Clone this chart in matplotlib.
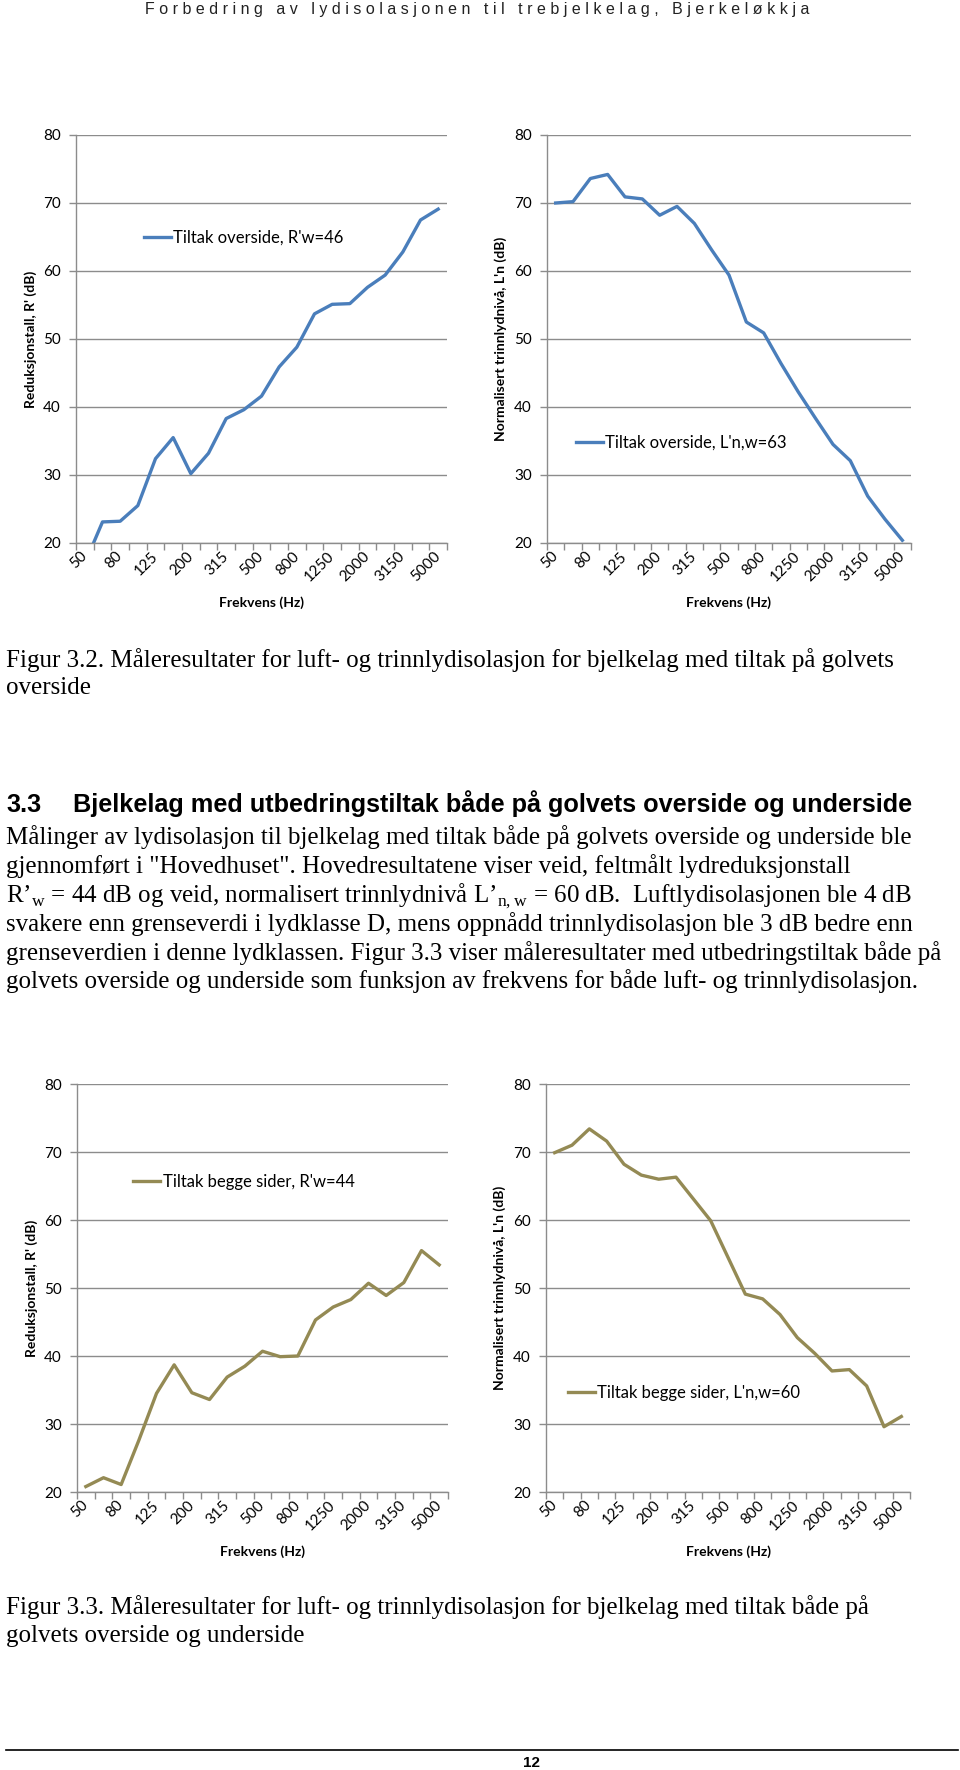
import numpy as np
import matplotlib
matplotlib.use('Agg')
import matplotlib.pyplot as plt

plt.rcParams['mathtext.fontset'] = 'custom'
plt.rcParams['mathtext.rm'] = 'Liberation Serif'

# 1/3-oktav frekvenser (Hz)
freqs = ['50', '63', '80', '100', '125', '160', '200', '250', '315', '400', '500',
         '630', '800', '1000', '1250', '1600', '2000', '2500', '3150', '4000', '5000']

# Figur 3.2 - tiltak overside
r_over = [17.0, 23.1, 23.2, 25.5, 32.4, 35.5, 30.2, 33.2, 38.3, 39.6, 41.6,
          45.9, 48.8, 53.7, 55.1, 55.2, 57.6, 59.4, 62.8, 67.5, 69.1]
ln_over = [70.0, 70.2, 73.6, 74.2, 70.9, 70.6, 68.2, 69.5, 67.0, 63.1, 59.4,
           52.5, 50.9, 46.4, 42.2, 38.3, 34.5, 32.1, 26.9, 23.5, 20.4]

# Figur 3.3 - tiltak begge sider
r_begge = [20.8, 22.1, 21.1, 27.6, 34.5, 38.7, 34.6, 33.6, 36.9, 38.5, 40.7,
           39.9, 40.0, 45.3, 47.2, 48.3, 50.7, 48.9, 50.8, 55.5, 53.4]
ln_begge = [69.9, 71.0, 73.4, 71.6, 68.2, 66.6, 66.0, 66.3, 63.1, 59.9, 54.5,
            49.1, 48.4, 46.1, 42.7, 40.4, 37.8, 38.0, 35.6, 29.6, 31.1]

yticks = [20, 30, 40, 50, 60, 70, 80]

blue = '#4A7EBB'
olive = '#948A54'
grid_c = '#8C8C8C'
W, H = 960, 1770

fig = plt.figure(figsize=(9.6, 17.7), dpi=100)


def rect(l, t, r, b):
    return [l / W, 1 - b / H, (r - l) / W, (b - t) / H]


def txt(x, y, s, **kw):
    fig.text(x / W, 1 - y / H, s, **kw)


def chart(pos, values, color, ylabel, label, leg_xy, ylab_x):
    ax = fig.add_axes(pos)
    x = np.arange(len(freqs))
    ax.plot(x, values, color=color, lw=2.4, label=label, solid_joinstyle='round')
    ax.set_xlim(-0.5, len(freqs) - 0.5)
    ax.set_ylim(20, 80)
    ax.set_yticks(yticks)
    ax.yaxis.grid(True, color=grid_c, lw=1.0)
    ax.set_axisbelow(True)
    for s in ['top', 'right']:
        ax.spines[s].set_visible(False)
    for s in ['left', 'bottom']:
        ax.spines[s].set_color(grid_c)
        ax.spines[s].set_linewidth(1.0)
    ax.set_xticks(x[::2])
    ax.set_xticklabels(freqs[::2], rotation=45, ha='right', va='center',
                       rotation_mode='anchor', family='Lato', fontsize=11)
    ax.set_xticks(np.arange(-0.5, len(freqs)), minor=True)
    ax.tick_params(axis='x', which='major', length=0, pad=8)
    ax.tick_params(axis='x', which='minor', length=5, color=grid_c, width=1)
    ax.tick_params(axis='y', length=5, color=grid_c, width=1, pad=6)
    for t in ax.get_yticklabels():
        t.set_family('Lato')
        t.set_fontsize(11)
    ax.set_ylabel(ylabel, family='Lato', fontweight='bold', fontsize=10)
    ax.yaxis.set_label_coords(ylab_x, 0.5)
    ax.set_xlabel('Frekvens (Hz)', family='Lato', fontweight='bold', fontsize=10,
                  labelpad=9)
    ax.legend(loc='center left', bbox_to_anchor=leg_xy, frameon=False,
              handlelength=1.6, handletextpad=0.15, borderpad=0, borderaxespad=0,
              prop={'family': 'Lato', 'size': 12})
    return ax


chart(rect(76, 135, 447, 543), r_over, blue, "Reduksjonstall, R' (dB)",
      "Tiltak overside, R'w=46", (0.183, 0.748), -0.105)
chart(rect(547, 135, 911, 543), ln_over, blue, "Normalisert trinnlydnivå, L'n (dB)",
      "Tiltak overside, L'n,w=63", (0.080, 0.245), -0.11)
chart(rect(77, 1084, 448, 1492), r_begge, olive, "Reduksjonstall, R' (dB)",
      "Tiltak begge sider, R'w=44", (0.152, 0.761), -0.105)
chart(rect(546, 1084, 910, 1492), ln_begge, olive, "Normalisert trinnlydnivå, L'n (dB)",
      "Tiltak begge sider, L'n,w=60", (0.061, 0.243), -0.11)

# topptekst med sperret skrift
header = 'Forbedring av lydisolasjonen til trebjelkelag, Bjerkeløkkja'
spaced = '   '.join(' '.join(w) for w in header.split(' '))
txt(477, 14, spaced, ha='center', va='baseline', family='Liberation Sans',
    fontsize=11.5, color='#222222')

serif = dict(family='Liberation Serif', fontsize=18, va='baseline', ha='left')
txt(6, 667, 'Figur 3.2. Måleresultater for luft- og trinnlydisolasjon for bjelkelag med tiltak på golvets', **serif)
txt(6, 694, 'overside', **serif)

txt(6, 812, '3.3', family='Liberation Sans', fontweight='bold', fontsize=18.2, va='baseline')
txt(73, 812, 'Bjelkelag med utbedringstiltak både på golvets overside og underside',
    family='Liberation Sans', fontweight='bold', fontsize=18.2, va='baseline')

para = [
    'Målinger av lydisolasjon til bjelkelag med tiltak både på golvets overside og underside ble',
    'gjennomført i "Hovedhuset". Hovedresultatene viser veid, feltmålt lydreduksjonstall',
    'R’$_{\\mathrm{w}}$ = 44 dB og veid, normalisert trinnlydnivå L’$_{\\mathrm{n,w}}$ = 60 dB.  Luftlydisolasjonen ble 4 dB',
    'svakere enn grenseverdi i lydklasse D, mens oppnådd trinnlydisolasjon ble 3 dB bedre enn',
    'grenseverdien i denne lydklassen. Figur 3.3 viser måleresultater med utbedringstiltak både på',
    'golvets overside og underside som funksjon av frekvens for både luft- og trinnlydisolasjon.',
]
para_y = [844, 873, 902, 931, 960, 988]
for s, y in zip(para, para_y):
    txt(6, y, s, **serif)

txt(6, 1614, 'Figur 3.3. Måleresultater for luft- og trinnlydisolasjon for bjelkelag med tiltak både på', **serif)
txt(6, 1642, 'golvets overside og underside', **serif)

fig.add_artist(plt.Line2D([6 / W, 958 / W], [1 - 1750 / H, 1 - 1750 / H], color='black', lw=1.2))
txt(532, 1767, '12', ha='center', va='baseline', family=['Liberation Sans Narrow', 'Liberation Sans'],
    fontweight='bold', fontsize=11)

fig.savefig('out.png', dpi=100)
